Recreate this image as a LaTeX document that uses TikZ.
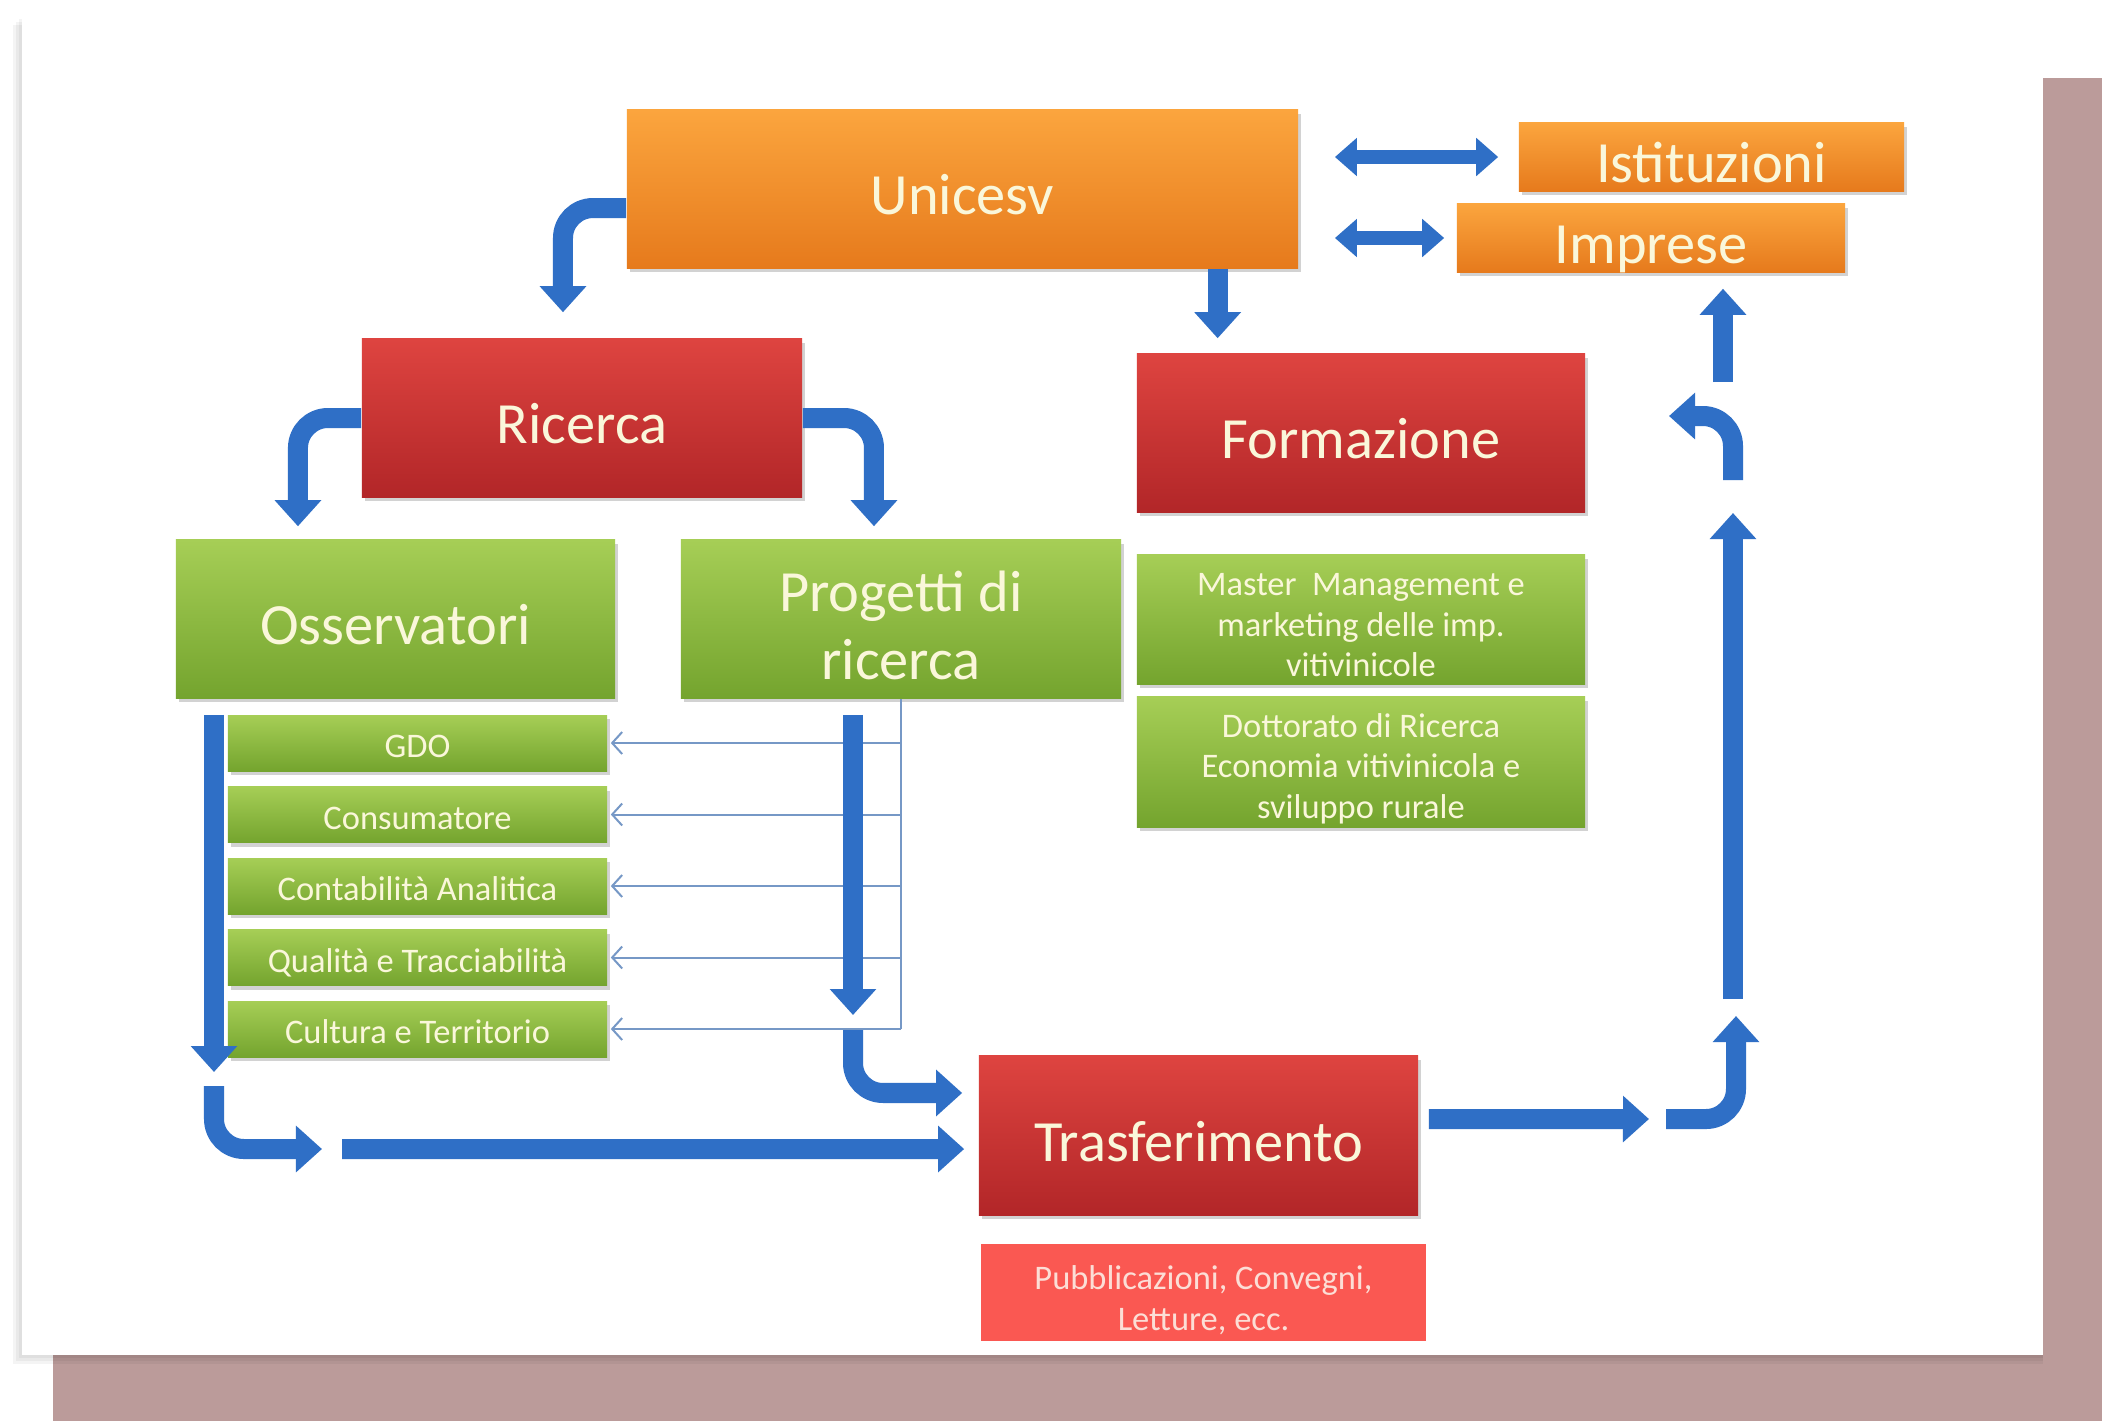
\documentclass[tikz,border=0pt]{standalone}
\usepackage{fontspec}
\setmainfont{Carlito}
\usetikzlibrary{arrows.meta,calc,shadows}
\definecolor{flowblue}{RGB}{47,111,198}
\definecolor{linkblue}{RGB}{118,152,198}
\definecolor{labelcream}{RGB}{250,247,218}
\definecolor{labelpink}{RGB}{252,222,214}
\definecolor{orangetop}{RGB}{251,165,62}
\definecolor{orangebot}{RGB}{230,122,28}
\definecolor{redtop}{RGB}{222,68,64}
\definecolor{redbot}{RGB}{178,38,40}
\definecolor{greentop}{RGB}{166,206,86}
\definecolor{greenbot}{RGB}{116,164,46}
\definecolor{salmon}{RGB}{250,88,82}
\definecolor{pinkback}{RGB}{187,155,154}
\tikzset{
  label-box/.style={
    rectangle,
    inner sep=2pt,
    text=labelcream,
    align=center
  },
  lifted/.style={
    label-box,
    drop shadow={opacity=0.35, shadow xshift=0.03cm, shadow yshift=-0.04cm}
  },
  font-big/.style={font=\fontsize{16.6}{19.5}\selectfont, text height=0.51cm, text depth=0pt},
  font-small/.style={font=\fontsize{9.8}{11.6}\selectfont, text height=0.29cm, text depth=0pt},
  box-orange/.style={lifted, font-big, top color=orangetop, bottom color=orangebot},
  box-red/.style={lifted, font-big, top color=redtop, bottom color=redbot},
  box-green/.style={lifted, font-big, top color=greentop, bottom color=greenbot},
  box-leaf/.style={lifted, font-small, top color=greentop, bottom color=greenbot},
  box-note/.style={label-box, font-small, fill=salmon, text=labelpink},
  flow/.style={
    line width=0.2cm,
    draw=flowblue,
    rounded corners=0.3cm,
    -{Triangle[length=0.26cm,width=0.45cm]}
  },
  flow-both/.style={
    line width=0.14cm,
    draw=flowblue,
    {Triangle[length=0.22cm,width=0.37cm]}-{Triangle[length=0.22cm,width=0.37cm]}
  },
  link-thin/.style={line width=0.02cm, draw=linkblue},
  link-arrow/.style={link-thin, -{Straight Barb[length=0.1cm,width=0.22cm]}}
}
\newcommand{\slideframe}{
  \useasboundingbox (0,0) rectangle (2102,1420);
  \clip (0,0) rectangle (2102,1420);
  \fill[pinkback, rounded corners=0.25cm] (53,78) rectangle (2160,1480);
  \foreach \d in {3,6,9}
    \fill[black, opacity=0.045] (22-\d,16+\d) rectangle (2043,1355+\d);
  \fill[white] (22,16) rectangle (2043,1355);
}

\begin{document}
\begin{tikzpicture}[x=0.01cm, y=-0.01cm]
  \slideframe
  % --- top row: centre and partners ---
  \node[box-orange, minimum width=6.71cm, minimum height=1.58cm] (unicesv) at (962.5,189) {Unicesv};
  \node[box-orange, minimum width=3.85cm, minimum height=0.68cm] (istituzioni) at (1711.5,157) {Istituzioni};
  \node[box-orange, minimum width=3.88cm, minimum height=0.68cm] (imprese) at (1651,238) {Imprese};

  % --- second row ---
  \node[box-red, minimum width=4.40cm, minimum height=1.58cm] (ricerca) at (582,418) {Ricerca};
  \node[box-red, minimum width=4.48cm, minimum height=1.58cm] (formazione) at (1361,433) {Formazione};

  % --- third row ---
  \node[box-green, minimum width=4.39cm, minimum height=1.58cm] (osservatori) at (395.5,619) {Osservatori};
  \node[box-green, minimum width=4.40cm, minimum height=1.58cm, text height=1.216cm]
    (progetti) at (901,619) {Progetti di\\ricerca};
  \node[box-leaf, minimum width=4.48cm, minimum height=1.29cm, text height=1.146cm]
    (master) at (1361,619.5) {Master\ \ Management e\\marketing delle imp.\\vitivinicole};
  \node[box-leaf, minimum width=4.48cm, minimum height=1.30cm, text height=1.132cm]
    (dottorato) at (1361,762) {Dottorato di Ricerca\\Economia vitivinicola e\\sviluppo rurale};

  % --- list of observatories ---
  \foreach \name [count=\i] in {GDO, Consumatore, Contabilità Analitica, Qualità e Tracciabilità, Cultura e Territorio}
    \node[box-leaf, minimum width=3.79cm, minimum height=0.56cm] (obs\i) at (417.5,{743+71.5*(\i-1)}) {\name};

  % --- transfer ---
  \node[box-red, minimum width=4.39cm, minimum height=1.59cm] (trasferimento) at (1198.5,1135.5) {Trasferimento};
  \node[box-note, minimum width=4.45cm, minimum height=0.97cm, text height=0.764cm]
    (pubblicazioni) at (1203.5,1292.5) {Pubblicazioni, Convegni,\\Letture, ecc.};

  % --- thin links from projects to observatories ---
  \draw[link-thin] (progetti.south) -- (progetti.south |- obs5.east);
  \foreach \i in {1,...,5}
    \draw[link-arrow, shorten >=0.03cm] (progetti.south |- obs\i.east) -- (obs\i.east);

  % --- free ends of the big arrows ---
  \coordinate (oss-end)   at (214,1072);
  \coordinate (oss-turn)  at (214,1086);
  \coordinate (oss-tip)   at (322,1149);
  \coordinate (long-from) at (342,1149);
  \coordinate (prog-end)  at (853,1015);
  \coordinate (prog-turn) at (853,1030);
  \coordinate (out-tip)   at (1649,1119);
  \coordinate (up-from)   at (1666,1119);
  \coordinate (up-tip)    at (1736,1016);
  \coordinate (rise-from) at (1733,999);
  \coordinate (rise-tip)  at (1733,513);
  \coordinate (hook-from) at (1733,480);
  \coordinate (hook-tip)  at (1669,416);
  \coordinate (imp-from)  at (1723,382);

  % --- big arrows ---
  \draw[flow, shorten >=0.26cm] ([yshift=-0.19cm]unicesv.west) -| ([xshift=-0.19cm]ricerca.north);
  \draw[flow, shorten >=0.15cm] ([xshift=2.55cm]unicesv.south) -- ([xshift=2.55cm]unicesv.south |- formazione.north);
  \draw[flow, shorten >=0.13cm] (ricerca.west) -| ([xshift=-0.975cm]osservatori.north);
  \draw[flow, shorten >=0.13cm] (ricerca.east) -| ([xshift=-0.27cm]progetti.north);
  \draw[flow, shorten <=0.16cm] (oss-end |- osservatori.south) -- (oss-end);
  \draw[flow, shorten <=0.16cm] (prog-end |- progetti.south) -- (prog-end);
  \draw[flow] (oss-turn) |- (oss-tip);
  \draw[flow, shorten >=0.14cm] (long-from) -- ([yshift=-0.135cm]trasferimento.west);
  \draw[flow, shorten >=0.16cm] (prog-turn) |- ([yshift=0.425cm]trasferimento.west);
  \draw[flow, shorten <=0.1cm] ([yshift=0.165cm]trasferimento.east) -- (out-tip);
  \draw[flow] (up-from) -| (up-tip);
  \draw[flow] (rise-from) -- (rise-tip);
  \draw[flow] (hook-from) |- (hook-tip);
  \draw[flow, shorten >=0.16cm] (imp-from) -- (imp-from |- imprese.south);

  % --- exchange with partners ---
  \draw[flow-both, shorten <=0.36cm, shorten >=0.2cm] (unicesv.east |- istituzioni.west) -- (istituzioni.west);
  \draw[flow-both, shorten <=0.36cm, shorten >=0.12cm] (unicesv.east |- imprese.west) -- (imprese.west);
\end{tikzpicture}
\end{document}
